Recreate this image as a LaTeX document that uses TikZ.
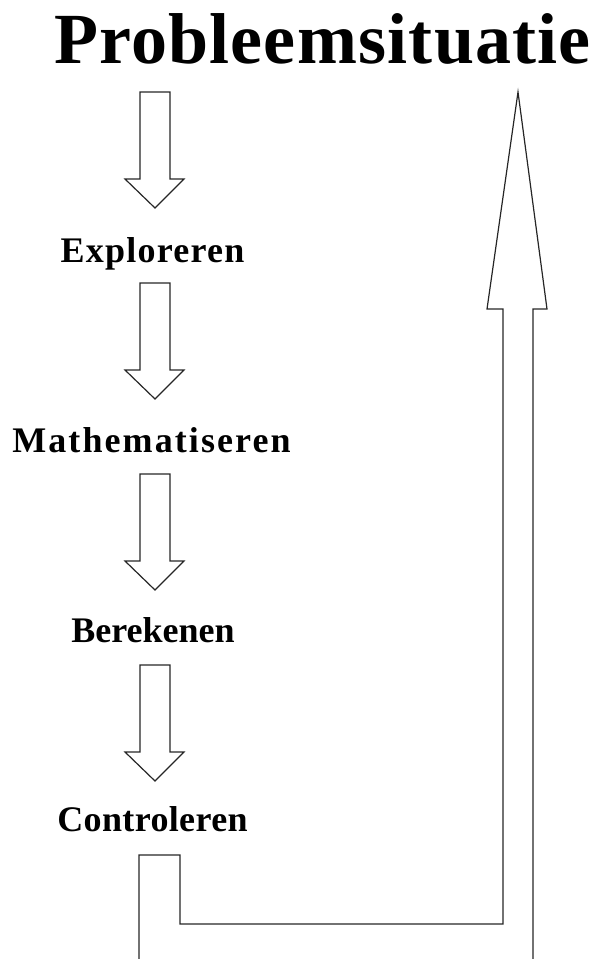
\documentclass[tikz,border=0pt]{standalone}
\usepackage{fontspec}
\setmainfont{Liberation Serif}
\usetikzlibrary{calc}

\tikzset{
  stage/.style={anchor=base, inner sep=0pt,
    font=\bfseries\fontsize{36}{40}\selectfont},
  spaced/.style={font=\bfseries\fontsize{36}{40}\selectfont\addfontfeature{LetterSpace=#1}},
  outline/.style={draw=black!85, line width=1.2pt, line join=miter},
  downarrow/.pic={
    \draw[outline] (-15,0) -- (15,0) -- (15,87) -- (29,87) -- (0,116)
      -- (-30,87) -- (-15,87) -- cycle;
  }
}

\begin{document}
\begin{tikzpicture}[x=1pt, y=-1pt]
  \useasboundingbox (0,0) rectangle (593,959);

  \node[stage, font=\bfseries\fontsize{72}{80}\selectfont\addfontfeature{LetterSpace=1.7}]
    (title) at (322.5,63) {Probleemsituatie};
  \node[stage, spaced=3.4] (explor) at (152.5,262) {Exploreren};
  \node[stage, spaced=5.8] (math)   at (151.5,452) {Mathematiseren};
  \node[stage] (berek)  at (153,642)   {Berekenen};
  \node[stage, spaced=1] (contr)  at (152.5,831) {Controleren};

  % arrows between the stages
  \pic at (155,92)  {downarrow};
  \pic at (155,283) {downarrow};
  \pic at (155,474) {downarrow};
  \pic at (155,665) {downarrow};

  % back to the start
  \coordinate (backL) at (139,959);
  \coordinate (backR) at (533,959);
  \draw[outline] (backL) -- (139,855) -- (180,855) -- (180,924) -- (503,924)
    -- (503,309) -- (487,309) -- (518,92) -- (547,309) -- (533,309) -- (backR);
\end{tikzpicture}
\end{document}
